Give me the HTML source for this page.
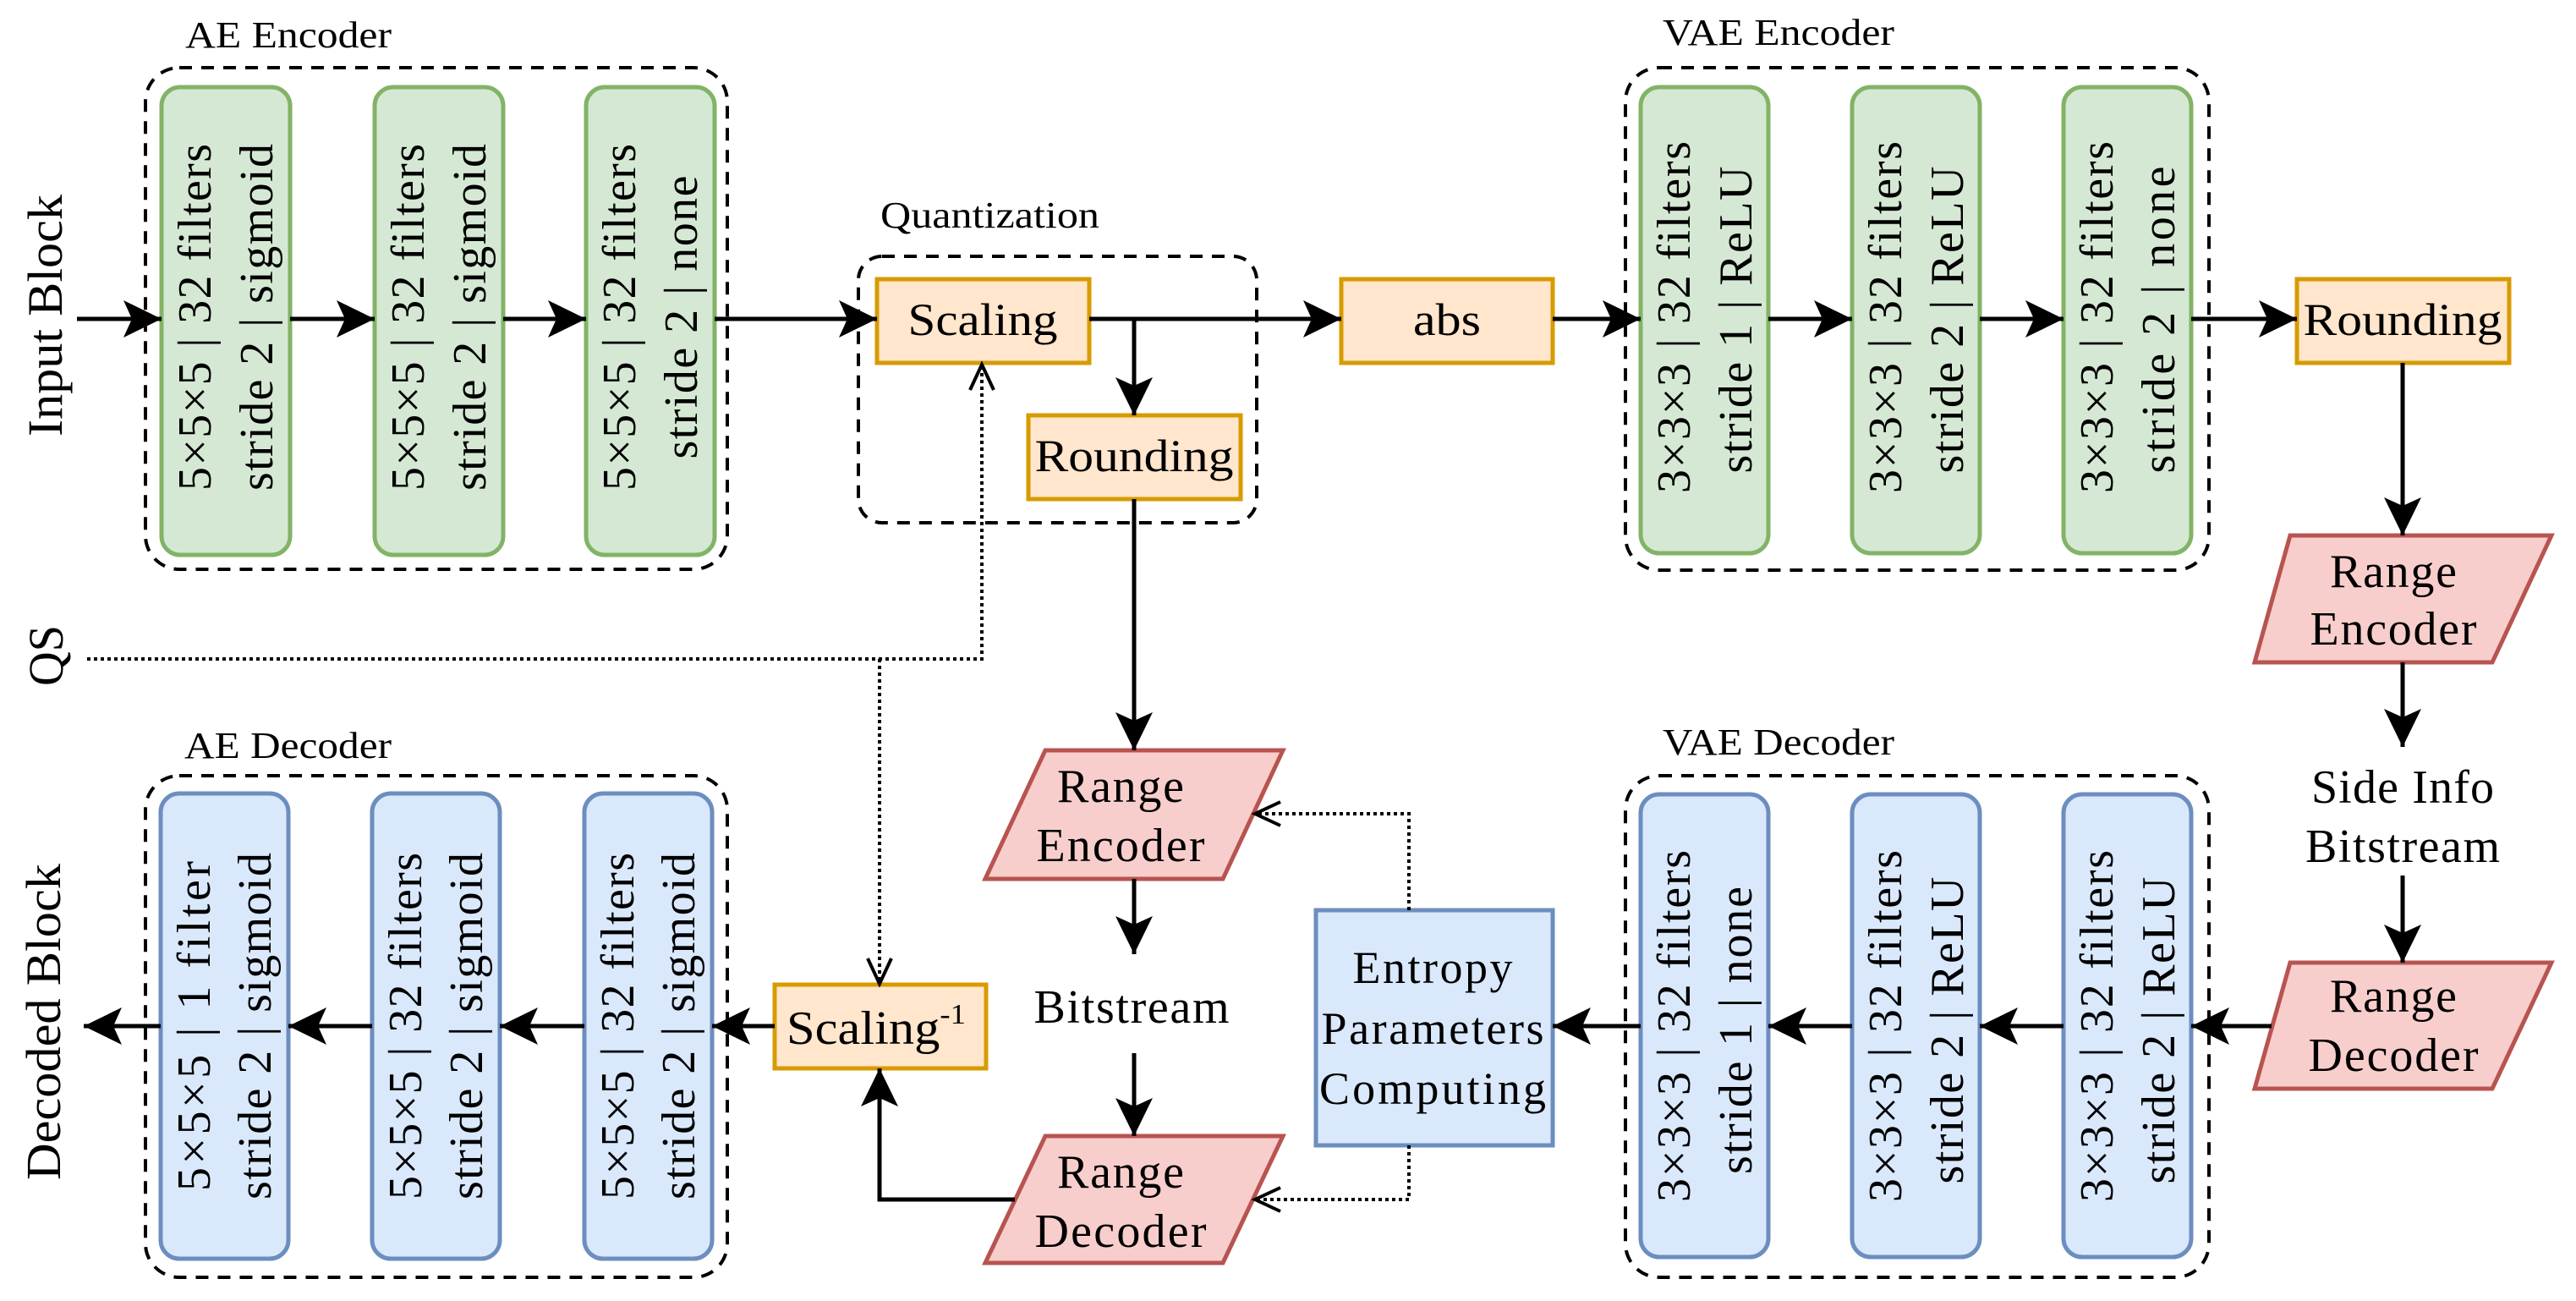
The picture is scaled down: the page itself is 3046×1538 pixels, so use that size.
<!DOCTYPE html>
<html><head><meta charset="utf-8"><style>
html,body{margin:0;padding:0;background:#fff;}
svg{display:block;}
text{font-family:"Liberation Serif","DejaVu Serif",serif;fill:#000;}
</style></head><body>
<svg width="3046" height="1538" viewBox="0 0 3046 1538" xmlns="http://www.w3.org/2000/svg">
<defs>
<marker id="a" markerUnits="userSpaceOnUse" markerWidth="50" markerHeight="50" refX="45" refY="22" orient="auto">
<path d="M0,0 L45,22 L0,44 L10,22 Z" fill="#000"/>
</marker>
<marker id="o" markerUnits="userSpaceOnUse" markerWidth="40" markerHeight="40" refX="34" refY="16" orient="auto">
<path d="M4,2 L34,16 L4,30" fill="none" stroke="#000" stroke-width="4"/>
</marker>
</defs>

<g fill="none" stroke="#000" stroke-width="4" stroke-dasharray="15 11">
<rect x="172" y="80" width="688" height="593" rx="40"/>
<rect x="1922" y="80" width="690" height="594" rx="40"/>
<rect x="172" y="917" width="688" height="593" rx="40"/>
<rect x="1922" y="917" width="690" height="593" rx="40"/>
<rect x="1015" y="303" width="471" height="315" rx="28"/>
</g>

<g font-size="44">
<text x="219" y="56" textLength="244" lengthAdjust="spacingAndGlyphs">AE Encoder</text>
<text x="1966" y="53" textLength="274" lengthAdjust="spacingAndGlyphs">VAE Encoder</text>
<text x="218" y="896" textLength="245" lengthAdjust="spacingAndGlyphs">AE Decoder</text>
<text x="1966" y="892" textLength="274" lengthAdjust="spacingAndGlyphs">VAE Decoder</text>
<text x="1041" y="269" textLength="259" lengthAdjust="spacingAndGlyphs">Quantization</text>
</g>

<g fill="#d5e8d4" stroke="#82b366" stroke-width="5">
<rect x="191" y="103" width="152" height="553" rx="22"/>
<rect x="443" y="103" width="152" height="553" rx="22"/>
<rect x="693" y="103" width="152" height="553" rx="22"/>
<rect x="1940" y="103" width="151" height="551" rx="22"/>
<rect x="2190" y="103" width="151" height="551" rx="22"/>
<rect x="2440" y="103" width="151" height="551" rx="22"/>
</g>
<g fill="#dae8fc" stroke="#6c8ebf" stroke-width="5">
<rect x="190" y="938" width="151" height="550" rx="22"/>
<rect x="440" y="938" width="151" height="550" rx="22"/>
<rect x="691" y="938" width="151" height="550" rx="22"/>
<rect x="1940" y="939" width="151" height="547" rx="22"/>
<rect x="2190" y="939" width="151" height="547" rx="22"/>
<rect x="2440" y="939" width="151" height="547" rx="22"/>
</g>

<g font-size="56" text-anchor="middle" lengthAdjust="spacingAndGlyphs">
<text transform="translate(249,375) rotate(-90)" textLength="410">5×5×5 | 32 filters</text>
<text transform="translate(322,375) rotate(-90)" textLength="410">stride 2 | sigmoid</text>
<text transform="translate(501,375) rotate(-90)" textLength="410">5×5×5 | 32 filters</text>
<text transform="translate(574,375) rotate(-90)" textLength="410">stride 2 | sigmoid</text>
<text transform="translate(751,375) rotate(-90)" textLength="410">5×5×5 | 32 filters</text>
<text transform="translate(824,375) rotate(-90)" textLength="335">stride 2 | none</text>

<text transform="translate(1998,375) rotate(-90)" textLength="416">3×3×3 | 32 filters</text>
<text transform="translate(2071,378) rotate(-90)" textLength="363">stride 1 | ReLU</text>
<text transform="translate(2248,375) rotate(-90)" textLength="416">3×3×3 | 32 filters</text>
<text transform="translate(2321,378) rotate(-90)" textLength="363">stride 2 | ReLU</text>
<text transform="translate(2498,375) rotate(-90)" textLength="416">3×3×3 | 32 filters</text>
<text transform="translate(2571,378) rotate(-90)" textLength="363">stride 2 | none</text>

<text transform="translate(248,1213) rotate(-90)" textLength="390">5×5×5 | 1 filter</text>
<text transform="translate(320,1213) rotate(-90)" textLength="410">stride 2 | sigmoid</text>
<text transform="translate(498,1213) rotate(-90)" textLength="410">5×5×5 | 32 filters</text>
<text transform="translate(570,1213) rotate(-90)" textLength="410">stride 2 | sigmoid</text>
<text transform="translate(749,1213) rotate(-90)" textLength="410">5×5×5 | 32 filters</text>
<text transform="translate(821,1213) rotate(-90)" textLength="410">stride 2 | sigmoid</text>

<text transform="translate(1998,1213) rotate(-90)" textLength="416">3×3×3 | 32 filters</text>
<text transform="translate(2071,1218) rotate(-90)" textLength="340">stride 1 | none</text>
<text transform="translate(2248,1213) rotate(-90)" textLength="416">3×3×3 | 32 filters</text>
<text transform="translate(2321,1218) rotate(-90)" textLength="363">stride 2 | ReLU</text>
<text transform="translate(2498,1213) rotate(-90)" textLength="416">3×3×3 | 32 filters</text>
<text transform="translate(2571,1218) rotate(-90)" textLength="363">stride 2 | ReLU</text>
</g>

<g font-size="58" text-anchor="middle">
<text transform="translate(73,373) rotate(-90)" textLength="286" lengthAdjust="spacingAndGlyphs">Input Block</text>
<text transform="translate(71,1208) rotate(-90)" textLength="374" lengthAdjust="spacingAndGlyphs">Decoded Block</text>
<text transform="translate(74,775) rotate(-90)" textLength="72" lengthAdjust="spacingAndGlyphs">QS</text>
</g>

<g fill="#ffe6cc" stroke="#d79b00" stroke-width="5">
<rect x="1037" y="330" width="251" height="99"/>
<rect x="1216" y="491" width="251" height="99"/>
<rect x="1586" y="330" width="250" height="99"/>
<rect x="2716" y="330" width="251" height="99"/>
<rect x="916" y="1164" width="250" height="99"/>
</g>
<g font-size="54" text-anchor="middle">
<text x="1162" y="396" textLength="177" lengthAdjust="spacingAndGlyphs">Scaling</text>
<text x="1341" y="557" textLength="235" lengthAdjust="spacingAndGlyphs">Rounding</text>
<text x="1711" y="396" textLength="80" lengthAdjust="spacingAndGlyphs">abs</text>
<text x="2841" y="396" textLength="235" lengthAdjust="spacingAndGlyphs">Rounding</text>
</g>
<text x="930" y="1234" font-size="56" textLength="212" lengthAdjust="spacingAndGlyphs">Scaling<tspan font-size="34" dy="-24">-1</tspan></text>

<g fill="#f8cecc" stroke="#b85450" stroke-width="5">
<polygon points="1236,887 1517,887 1446,1039 1165,1039"/>
<polygon points="1236,1343 1517,1343 1446,1493 1165,1493"/>
<polygon points="2708,633 3017,633 2947,783 2666,783"/>
<polygon points="2708,1138 3017,1138 2947,1287 2666,1287"/>
</g>
<g font-size="56" text-anchor="middle" lengthAdjust="spacingAndGlyphs">
<text x="1325" y="948" textLength="150">Range</text>
<text x="1325" y="1018" textLength="199">Encoder</text>
<text x="1325" y="1404" textLength="150">Range</text>
<text x="1325" y="1474" textLength="203">Decoder</text>
<text x="2830" y="694" textLength="150">Range</text>
<text x="2830" y="762" textLength="197">Encoder</text>
<text x="2830" y="1196" textLength="150">Range</text>
<text x="2830" y="1266" textLength="201">Decoder</text>
<text x="1338" y="1209" textLength="231">Bitstream</text>
<text x="2841" y="949" textLength="216">Side Info</text>
<text x="2841" y="1019" textLength="230">Bitstream</text>
</g>

<rect x="1556" y="1076" width="280" height="278" fill="#dae8fc" stroke="#6c8ebf" stroke-width="5"/>
<g font-size="54" text-anchor="middle" lengthAdjust="spacingAndGlyphs">
<text x="1694" y="1162" textLength="189">Entropy</text>
<text x="1694" y="1234" textLength="263">Parameters</text>
<text x="1694" y="1305" textLength="268">Computing</text>
</g>

<g stroke="#000" stroke-width="5" fill="none" marker-end="url(#a)">
<line x1="91" y1="377" x2="191" y2="377"/>
<line x1="343" y1="377" x2="443" y2="377"/>
<line x1="595" y1="377" x2="693" y2="377"/>
<line x1="845" y1="377" x2="1037" y2="377"/>
<line x1="1288" y1="377" x2="1586" y2="377"/>
<polyline points="1341,377 1341,491"/>
<line x1="1836" y1="377" x2="1940" y2="377"/>
<line x1="2091" y1="377" x2="2190" y2="377"/>
<line x1="2341" y1="377" x2="2440" y2="377"/>
<line x1="2591" y1="377" x2="2716" y2="377"/>
<line x1="2841" y1="429" x2="2841" y2="633"/>
<line x1="2841" y1="783" x2="2841" y2="883"/>
<line x1="2841" y1="1035" x2="2841" y2="1138"/>
<line x1="2686" y1="1213" x2="2591" y2="1213"/>
<line x1="2440" y1="1213" x2="2341" y2="1213"/>
<line x1="2190" y1="1213" x2="2091" y2="1213"/>
<line x1="1940" y1="1213" x2="1836" y2="1213"/>
<line x1="1341" y1="590" x2="1341" y2="887"/>
<line x1="1341" y1="1039" x2="1341" y2="1128"/>
<line x1="1341" y1="1245" x2="1341" y2="1343"/>
<polyline points="1200,1418 1040,1418 1040,1263"/>
<line x1="916" y1="1213" x2="842" y2="1213"/>
<line x1="691" y1="1213" x2="591" y2="1213"/>
<line x1="440" y1="1213" x2="341" y2="1213"/>
<line x1="190" y1="1213" x2="99" y2="1213"/>
</g>

<g stroke="#000" stroke-width="4" stroke-dasharray="4 4" fill="none" marker-end="url(#o)">
<polyline points="103,779 1161,779 1161,431"/>
<polyline points="1040,779 1040,1163"/>
<polyline points="1666,1076 1666,962 1484,962"/>
<polyline points="1666,1354 1666,1418 1484,1418"/>
</g>
</svg>
</body></html>
